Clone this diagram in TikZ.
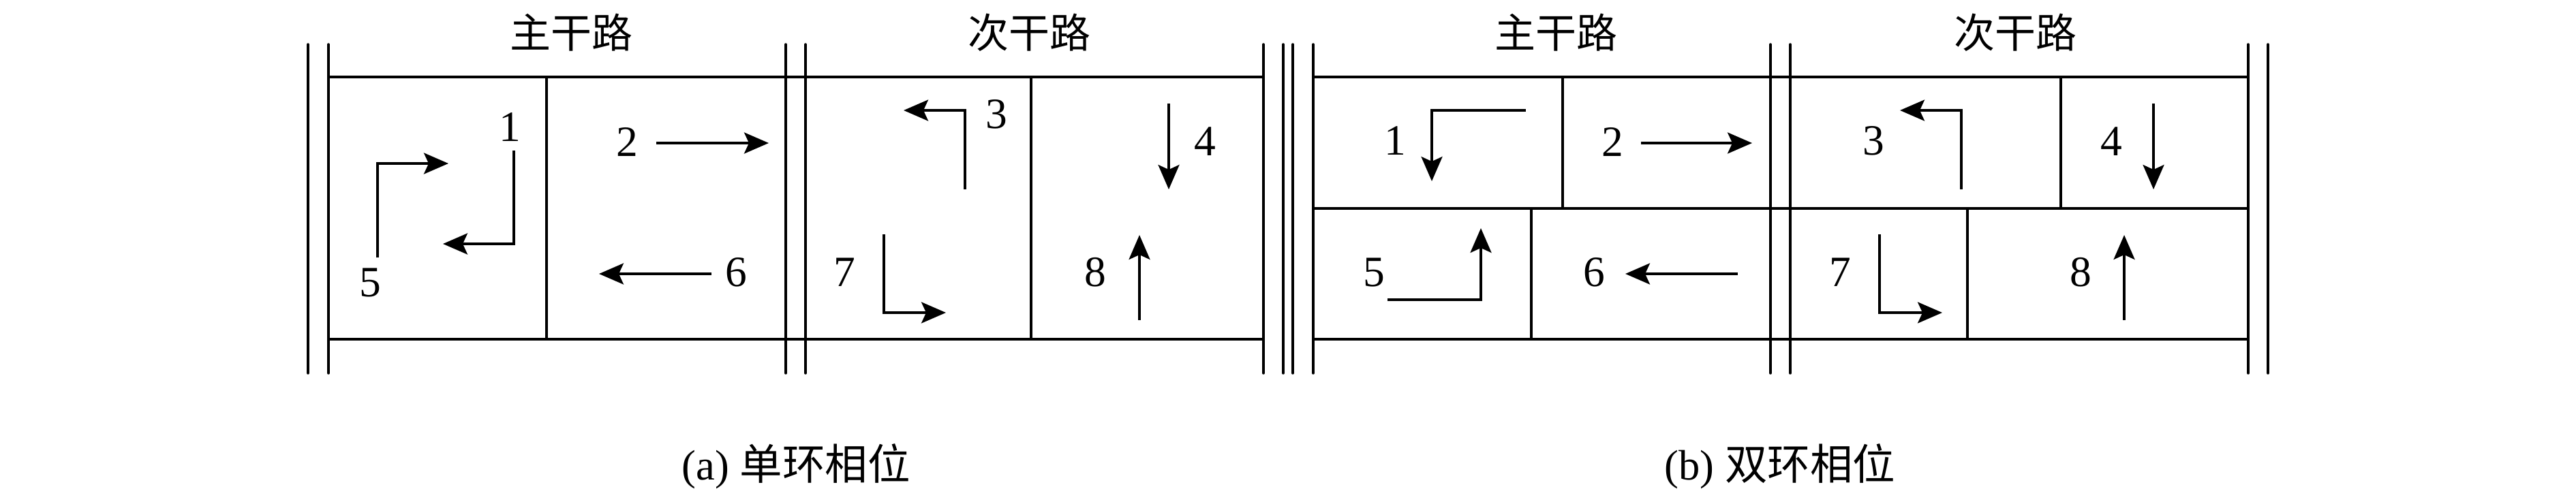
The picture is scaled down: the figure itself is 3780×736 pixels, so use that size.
\documentclass[tikz,border=0pt]{standalone}
\usepackage{fontspec}
\setmainfont{Liberation Serif}
\newfontfamily\cjk{Noto Sans CJK SC}
\usetikzlibrary{arrows.meta}
\begin{document}
\begin{tikzpicture}[x=0.2pt,y=-0.2pt,
  road/.style={line width=0.68pt,line cap=round},
  grid/.style={line width=0.68pt},
  arr/.style={line width=0.68pt,line join=miter,-{Stealth[length=7.2pt,width=6.2pt,inset=1.4pt]}},
  num/.style={inner sep=0pt,font=\fontsize{12.7}{14}\selectfont},
  ttl/.style={inner sep=0pt,font=\fontsize{12}{14}\selectfont\cjk},
  captext/.style={inner sep=0pt,font=\fontsize{12.5}{14}\selectfont}]
\useasboundingbox (0,0) rectangle (3780,736);
% ---------- (a) ----------
\foreach \x in {452,482,1153,1182,1854} \draw[road] (\x,65) -- (\x,548);
\draw[grid] (482,113) -- (1854,113);
\draw[grid] (482,498) -- (1854,498);
\draw[grid] (802,113) -- (802,498);
\draw[grid] (1513,113) -- (1513,498);
\node[ttl] (ta1) at (838,48) {主干路};
\node[ttl] (ta2) at (1510,48) {次干路};
\node[num] (a1) at (748,187) {1};
\node[num] (a5) at (543,415) {5};
\node[num] (a2) at (920,208) {2};
\node[num] (a6) at (1080,400) {6};
\node[num] (a3) at (1462,168) {3};
\node[num] (a7) at (1239,400) {7};
\node[num] (a4) at (1768,208) {4};
\node[num] (a8) at (1607,400) {8};
\draw[arr] (554,378) -- (554,240) -- (658,240);
\draw[arr] (754,221) -- (754,358) -- (650,358);
\draw[arr] (963,210) -- (1128,210);
\draw[arr] (1044,402) -- (879,402);
\draw[arr] (1416,278) -- (1416,162) -- (1326,162);
\draw[arr] (1297,344) -- (1297,459) -- (1388,459);
\draw[arr] (1715,152) -- (1715,278);
\draw[arr] (1672,470) -- (1672,345);
\node[captext] (capa) at (1168,685) {(a) {\cjk 单环相位}};
% ---------- (b) ----------
\foreach \x in {1883,1897,1927,2598,2627,3299,3328} \draw[road] (\x,65) -- (\x,548);
\foreach \y in {113,306,498} \draw[grid] (1927,\y) -- (3299,\y);
\draw[grid] (2293,113) -- (2293,306);
\draw[grid] (3024,113) -- (3024,306);
\draw[grid] (2247,306) -- (2247,498);
\draw[grid] (2887,306) -- (2887,498);
\node[ttl] (tb1) at (2283,48) {主干路};
\node[ttl] (tb2) at (2957,48) {次干路};
\node[num] (b1) at (2047,207) {1};
\node[num] (b5) at (2016,400) {5};
\node[num] (b2) at (2366,208) {2};
\node[num] (b6) at (2339,400) {6};
\node[num] (b3) at (2749,207) {3};
\node[num] (b7) at (2700,400) {7};
\node[num] (b4) at (3098,208) {4};
\node[num] (b8) at (3053,400) {8};
\draw[arr] (2239,162) -- (2101,162) -- (2101,266);
\draw[arr] (2036,440) -- (2173,440) -- (2173,335);
\draw[arr] (2408,210) -- (2571,210);
\draw[arr] (2550,402) -- (2385,402);
\draw[arr] (2878,278) -- (2878,162) -- (2788,162);
\draw[arr] (2758,344) -- (2758,459) -- (2850,459);
\draw[arr] (3160,152) -- (3160,278);
\draw[arr] (3117,470) -- (3117,345);
\node[captext] (capb) at (2612,685) {(b) {\cjk 双环相位}};
\end{tikzpicture}
\end{document}
